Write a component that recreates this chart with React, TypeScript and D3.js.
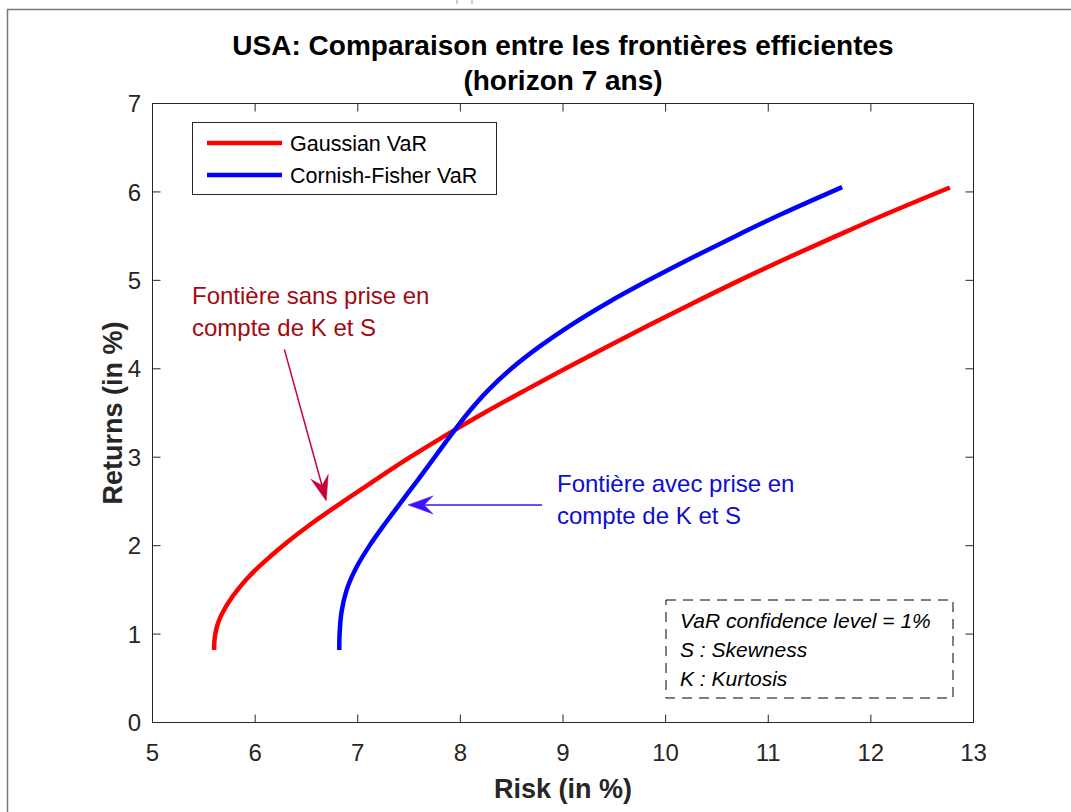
import React from 'react'
import * as d3 from 'd3'

// frontier data: returns (%) and matching risk (%)
const gaussianReturn = [0.82, 0.9, 1.0, 1.1, 1.2, 1.3, 1.4, 1.5, 1.625, 1.75, 1.875, 2.0, 2.25, 2.5, 2.75, 3.0, 3.25, 3.5, 3.75, 4.0, 4.25, 4.5, 4.75, 5.0, 5.25, 5.5, 5.75, 6.05]
const gaussianRisk = [5.6, 5.602, 5.612, 5.632, 5.665, 5.71, 5.765, 5.829, 5.92, 6.026, 6.145, 6.27, 6.55, 6.86, 7.18, 7.51, 7.86, 8.23, 8.62, 9.02, 9.43, 9.85, 10.28, 10.72, 11.18, 11.66, 12.15, 12.77]
const cfReturn = [0.82, 1.0, 1.25, 1.5, 1.75, 2.0, 2.25, 2.5, 2.75, 3.0, 3.25, 3.5, 3.75, 4.0, 4.25, 4.5, 4.75, 5.0, 5.25, 5.5, 5.75, 6.055]
const cfRisk = [6.82, 6.823, 6.842, 6.892, 6.985, 7.115, 7.267, 7.428, 7.59, 7.749, 7.908, 8.074, 8.265, 8.495, 8.77, 9.085, 9.44, 9.832, 10.247, 10.68, 11.13, 11.72]

const xTicks = [5, 6, 7, 8, 9, 10, 11, 12, 13]
const yTicks = [0, 1, 2, 3, 4, 5, 6, 7]
const titleLines = ['USA: Comparaison entre les frontières efficientes', '(horizon 7 ans)']
const legendLabels = ['Gaussian VaR', 'Cornish-Fisher VaR']
const legendColors = ['#ff0000', '#0000ff']
const redNote = ['Fontière sans prise en', 'compte de K et S']
const blueNote = ['Fontière avec prise en', 'compte de K et S']
const infoLines = ['VaR confidence level = 1%', 'S : Skewness', 'K : Kurtosis']

const W = 1071
const H = 812
const FONT = '"Liberation Sans", Arial, Helvetica, sans-serif'
const AX = '#262626'

const plot = { left: 152.5, right: 973.5, top: 103.5, bottom: 722.5 }

const x = d3.scaleLinear().domain([5, 13]).range([plot.left, plot.right])
const y = d3.scaleLinear().domain([0, 7]).range([plot.bottom, plot.top])

const line = d3.line<[number, number]>()
  .x(d => x(d[0]))
  .y(d => y(d[1]))
  .curve(d3.curveCatmullRom.alpha(0.5))

const zip = (a: number[], b: number[]) => a.map((v, i) => [v, b[i]] as [number, number])

// arrow head (back-notched) pointing at tip
function arrowHead(x0: number, y0: number, x1: number, y1: number, len = 25, half = 9, notch = 16) {
  const dx = x1 - x0
  const dy = y1 - y0
  const l = Math.hypot(dx, dy)
  const ux = dx / l
  const uy = dy / l
  const px = -uy
  const py = ux
  const bx = x1 - ux * len
  const by = y1 - uy * len
  const nx = x1 - ux * notch
  const ny = y1 - uy * notch
  return `M${x1},${y1} L${bx + px * half},${by + py * half} L${nx},${ny} L${bx - px * half},${by - py * half} Z`
}

function Arrow({ from, to, color }: { from: [number, number]; to: [number, number]; color: string }) {
  const x0 = x(from[0]), y0 = y(from[1]), x1 = x(to[0]), y1 = y(to[1])
  const l = Math.hypot(x1 - x0, y1 - y0)
  const ex = x1 - ((x1 - x0) / l) * 16
  const ey = y1 - ((y1 - y0) / l) * 16
  return (
    <g>
      <line x1={x0} y1={y0} x2={ex} y2={ey} stroke={color} strokeWidth={1.5} />
      <path d={arrowHead(x0, y0, x1, y1)} fill={color} stroke={color} strokeWidth={0.5} />
    </g>
  )
}

export default function App() {
  const tickLen = 8
  return (
    <svg width={W} height={H} style={{ position: 'absolute', left: 0, top: 0, background: '#fff' }} fontFamily={FONT}>
      <rect x={0} y={0} width={W} height={H} fill="#fff" />
      {/* figure frame */}
      <path d={`M7.5,${H + 2} L7.5,9.5 L${W + 2},9.5`} fill="none" stroke="#777" strokeWidth={1.5} />
      <line x1={457} y1={0} x2={457} y2={4} stroke="#999" />
      <line x1={472} y1={0} x2={472} y2={4} stroke="#999" />

      {/* title */}
      {titleLines.map((t, i) => (
        <text key={t} x={563} y={55 + i * 35} textAnchor="middle" fontSize={28} fontWeight="bold" fill="#000">{t}</text>
      ))}

      {/* axes box */}
      <rect x={plot.left} y={plot.top} width={plot.right - plot.left} height={plot.bottom - plot.top} fill="none" stroke={AX} strokeWidth={1} />
      {xTicks.map(t => (
        <g key={'x' + t}>
          <line x1={x(t)} x2={x(t)} y1={plot.bottom} y2={plot.bottom - tickLen} stroke={AX} />
          <line x1={x(t)} x2={x(t)} y1={plot.top} y2={plot.top + tickLen} stroke={AX} />
          <text x={x(t)} y={761} textAnchor="middle" fontSize={24} fill={AX}>{t}</text>
        </g>
      ))}
      {yTicks.map(t => (
        <g key={'y' + t}>
          <line x1={plot.left} x2={plot.left + tickLen} y1={y(t)} y2={y(t)} stroke={AX} />
          <line x1={plot.right} x2={plot.right - tickLen} y1={y(t)} y2={y(t)} stroke={AX} />
          <text x={141} y={y(t)} dy="0.36em" textAnchor="end" fontSize={24} fill={AX}>{t}</text>
        </g>
      ))}
      <text x={563} y={798} textAnchor="middle" fontSize={27} fontWeight="bold" fill={AX}>Risk (in %)</text>
      <text transform={`translate(122,${(plot.top + plot.bottom) / 2}) rotate(-90)`} textAnchor="middle" fontSize={27} fontWeight="bold" fill={AX}>Returns (in %)</text>

      {/* frontiers */}
      <path d={line(zip(gaussianRisk, gaussianReturn)) || ''} fill="none" stroke="#ff0000" strokeWidth={4.5} />
      <path d={line(zip(cfRisk, cfReturn)) || ''} fill="none" stroke="#0000ff" strokeWidth={4.5} />

      {/* legend */}
      <rect x={192.5} y={122.5} width={304} height={72} fill="#fff" stroke={AX} strokeWidth={1} />
      {legendLabels.map((l, i) => (
        <g key={l}>
          <line x1={207} x2={282} y1={143 + i * 32} y2={143 + i * 32} stroke={legendColors[i]} strokeWidth={4.5} />
          <text x={290} y={151 + i * 32} fontSize={21.5} fill="#000">{l}</text>
        </g>
      ))}

      {/* annotations */}
      {redNote.map((t, i) => (
        <text key={'r' + i} x={192} y={304 + i * 32} fontSize={24} fill="#a00a12">{t}</text>
      ))}
      <Arrow from={[6.285, 4.22]} to={[6.693, 2.506]} color="#c8003c" />
      {blueNote.map((t, i) => (
        <text key={'b' + i} x={557} y={492 + i * 32} fontSize={24} fill="#0d0dd1">{t}</text>
      ))}
      <Arrow from={[8.796, 2.461]} to={[7.49, 2.461]} color="#4010ff" />

      {/* info box */}
      <rect x={666} y={600} width={287} height={98} fill="none" stroke="#000" strokeWidth={1} strokeDasharray="10,7" />
      {infoLines.map((t, i) => (
        <text key={t} x={680} y={628 + i * 29} fontSize={21} fontStyle="italic" fill="#000">{t}</text>
      ))}
    </svg>
  )
}
